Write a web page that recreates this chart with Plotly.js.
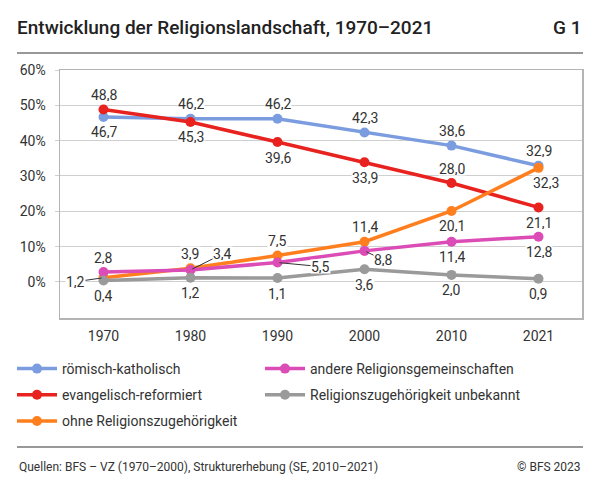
<!DOCTYPE html>
<html><head><meta charset="utf-8">
<script src="https://cdn.plot.ly/plotly-3.0.1.min.js"></script>
<style>body{margin:0;background:#fff}#chart{width:600px;height:489px}</style>
</head><body><div id="chart"></div>
<script>
const years = ['1970','1980','1990','2000','2010','2021'];
const seriesNames = ['römisch-katholisch','evangelisch-reformiert','ohne Religionszugehörigkeit','andere Religionsgemeinschaften','Religionszugehörigkeit unbekannt'];
const katholisch = [46.7, 46.2, 46.2, 42.3, 38.6, 32.9];
const reformiert = [48.8, 45.3, 39.6, 33.9, 28.0, 21.1];
const ohne = [1.2, 3.9, 7.5, 11.4, 20.1, 32.3];
const andere = [2.8, 3.4, 5.5, 8.8, 11.4, 12.8];
const unbekannt = [0.4, 1.2, 1.1, 3.6, 2.0, 0.9];
const yTicks = [0, 10, 20, 30, 40, 50, 60];

// style / placement (not data)
const colors = ['#7b9de0', '#e8221f', '#ff7f1e', '#dc4cb7', '#9a9a9a'];
const legendIds = ['legend', 'legend', 'legend', 'legend2', 'legend2'];
// 'a' = above, 'b' = below, {dx,dy} = pixel offset (leader = with line)
const placements = [
  ['b','a','a','a','a','a'],
  ['a','b','b','b','a','b'],
  [{dx:-28,dy:4,leader:true},'a','a','a','b',{dx:7,dy:15}],
  ['a',{dx:32,dy:-16,leader:true},{dx:43,dy:4,leader:true},{dx:19,dy:9,leader:true},'b','b'],
  ['b','b','b','b','b','b']
];
const allValues = [katholisch, reformiert, ohne, andere, unbekannt];

const font = 'Roboto, "DejaVu Sans", sans-serif';
const fmt = v => v.toFixed(1).replace('.', ',');

const traces = allValues.map((vals, i) => ({
  type: 'scatter', mode: 'lines+markers', name: seriesNames[i],
  x: years, y: vals, legend: legendIds[i], legendgroup: 'g' + i,
  line: {color: colors[i], width: 3.5},
  marker: {color: colors[i], size: 10},
  hoverinfo: 'skip'
}));

const annotations = [];
allValues.forEach((vals, i) => {
  vals.forEach((v, j) => {
    const p = placements[i][j];
    const base = {x: j, y: v, xref: 'x', yref: 'y', text: fmt(v), height: 13,
      font: {family: font, size: 14, color: '#333'}, bgcolor: '#ffffff', borderpad: 0};
    if (p === 'a') Object.assign(base, {showarrow: false, yshift: 15});
    else if (p === 'b') Object.assign(base, {showarrow: false, yshift: -15});
    else if (p.leader) Object.assign(base, {showarrow: true, arrowhead: 0, arrowwidth: 1, arrowcolor: '#333', standoff: 2, ax: p.dx, ay: p.dy});
    else Object.assign(base, {showarrow: false, xshift: p.dx, yshift: -p.dy});
    annotations.push(base);
  });
});

annotations.push({xref: 'paper', yref: 'paper', x: -43/522, y: (318-467)/248, xanchor: 'left', yanchor: 'middle',
  text: 'Quellen: BFS – VZ (1970–2000), Strukturerhebung (SE, 2010–2021)', showarrow: false,
  font: {family: font, size: 12, color: '#333'}});
annotations.push({xref: 'paper', yref: 'paper', x: 523/522, y: (318-467)/248, xanchor: 'right', yanchor: 'middle',
  text: '© BFS 2023', showarrow: false, font: {family: font, size: 12, color: '#333'}});
annotations.push({xref: 'paper', yref: 'paper', x: 523/522, y: (318-27)/248, xanchor: 'right', yanchor: 'middle',
  text: 'G 1', showarrow: false, font: {family: font, size: 19, color: '#222', weight: 500}});

const legendBase = {orientation: 'v', xref: 'container', yref: 'container', y: 1 - 353/489, yanchor: 'top', xanchor: 'left',
  font: {family: font, size: 14, color: '#333'}, traceorder: 'grouped', tracegroupgap: 5, itemwidth: 40, bgcolor: 'rgba(0,0,0,0)'};

const layout = {
  width: 600, height: 489,
  margin: {l: 60, r: 18, t: 70, b: 171, autoexpand: false},
  paper_bgcolor: '#fff', plot_bgcolor: '#fff',
  font: {family: font, color: '#333'},
  title: {text: 'Entwicklung der Religionslandschaft, 1970–2021', xref: 'container', x: 17/600, xanchor: 'left',
    yref: 'container', y: 1 - 27/489, yanchor: 'middle', font: {family: font, size: 19, color: '#222', weight: 500}},
  xaxis: {type: 'category', range: [-0.5, 5.5], showgrid: false, showline: true, mirror: true, automargin: false,
    linecolor: '#b4b4b4', linewidth: 1.5, ticks: '', tickfont: {size: 14, color: '#333'}, ticklabelstandoff: 5, fixedrange: true},
  yaxis: {range: [-10.2, 60], tickvals: yTicks, ticktext: yTicks.map(t => t + '%'), showgrid: true, gridcolor: '#cfcfcf', automargin: false,
    gridwidth: 1, zeroline: false, showline: true, mirror: true, linecolor: '#b4b4b4', linewidth: 1.5,
    ticks: 'outside', ticklen: 4, tickcolor: '#cfcfcf', tickfont: {size: 14, color: '#333'}, ticklabelstandoff: 6, fixedrange: true},
  legend: Object.assign({}, legendBase, {x: 12/600}),
  legend2: Object.assign({}, legendBase, {x: 260/600}),
  shapes: [
    {type: 'line', xref: 'paper', yref: 'paper', x0: -43/522, x1: 523/522, y0: (318-53)/248, y1: (318-53)/248, line: {color: '#333', width: 1}},
    {type: 'line', xref: 'paper', yref: 'paper', x0: -43/522, x1: 523/522, y0: (318-447)/248, y1: (318-447)/248, line: {color: '#333', width: 1}}
  ],
  annotations: annotations,
  showlegend: true
};

Plotly.newPlot('chart', traces, layout, {displayModeBar: false, staticPlot: true});
</script></body></html>
